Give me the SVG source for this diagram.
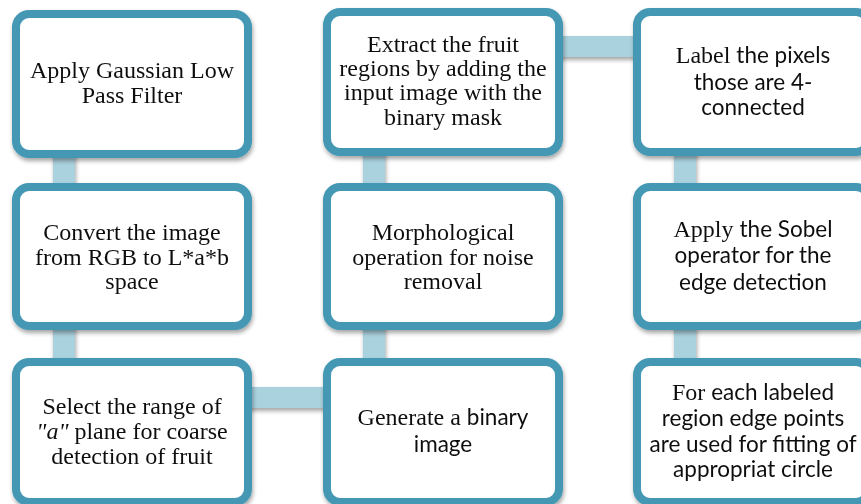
<svg xmlns="http://www.w3.org/2000/svg" width="861" height="504" viewBox="0 0 861 504">
<defs>
<filter id="sh" x="-10%" y="-10%" width="120%" height="130%">
<feDropShadow dx="1" dy="3" stdDeviation="2" flood-color="#000" flood-opacity="0.35"/>
</filter>
<style>
.box{fill:#fff;stroke:#4498B4;stroke-width:8}
.con{fill:#A9D1DE}
text{font-size:24px;fill:#111;text-anchor:middle}
.s{font-family:"Liberation Serif","Times New Roman",serif;font-size:24px}
.a{font-family:Lato,"Open Sans",sans-serif;font-size:22.5px}
.i{font-style:italic}
</style>
</defs>
<rect width="861" height="504" fill="#fff"/>
<g id="connectors" filter="url(#sh)">
<rect class="con" x="53" y="150" width="22" height="40"/>
<rect class="con" x="53" y="325" width="22" height="40"/>
<rect class="con" x="245" y="387" width="85" height="21"/>
<rect class="con" x="363" y="325" width="22" height="40"/>
<rect class="con" x="363" y="150" width="22" height="40"/>
<rect class="con" x="556" y="36" width="85" height="21"/>
<rect class="con" x="674" y="150" width="22" height="40"/>
<rect class="con" x="674" y="325" width="22" height="40"/>
</g>
<g id="n1" filter="url(#sh)">
<rect class="box" x="16" y="14" width="232" height="140" rx="13"/>
<text class="s" x="132" y="78">Apply Gaussian Low</text>
<text class="s" x="132" y="103">Pass Filter</text>
</g>
<g id="n2" filter="url(#sh)">
<rect class="box" x="16" y="187" width="232" height="139" rx="13"/>
<text class="s" x="132" y="240">Convert the image</text>
<text class="s" x="132" y="265">from RGB to L*a*b</text>
<text class="s" x="132" y="289">space</text>
</g>
<g id="n3" filter="url(#sh)">
<rect class="box" x="16" y="362" width="232" height="140" rx="13"/>
<text class="s" x="132" y="414">Select the range of</text>
<text class="s" x="132" y="439"><tspan class="i">"a"</tspan> plane for coarse</text>
<text class="s" x="132" y="464">detection of fruit</text>
</g>
<g id="n4" filter="url(#sh)">
<rect class="box" x="327" y="362" width="232" height="140" rx="13"/>
<text x="443" y="425"><tspan class="s">Generate a </tspan><tspan class="a">binary</tspan></text>
<text class="a" x="443" y="452">image</text>
</g>
<g id="n5" filter="url(#sh)">
<rect class="box" x="327" y="187" width="232" height="139" rx="13"/>
<text class="s" x="443" y="240">Morphological</text>
<text class="s" x="443" y="265">operation for noise</text>
<text class="s" x="443" y="289">removal</text>
</g>
<g id="n6" filter="url(#sh)">
<rect class="box" x="327" y="12" width="232" height="140" rx="13"/>
<text class="s" x="443" y="52">Extract the fruit</text>
<text class="s" x="443" y="76">regions by adding the</text>
<text class="s" x="443" y="100">input image with the</text>
<text class="s" x="443" y="125">binary mask</text>
</g>
<g id="n7" filter="url(#sh)">
<rect class="box" x="637" y="12" width="232" height="140" rx="13"/>
<text x="753" y="63"><tspan class="s">Label </tspan><tspan class="a">the pixels</tspan></text>
<text class="a" x="753" y="90">those are 4-</text>
<text class="a" x="753" y="115">connected</text>
</g>
<g id="n8" filter="url(#sh)">
<rect class="box" x="637" y="187" width="232" height="139" rx="13"/>
<text x="753" y="237"><tspan class="s">Apply </tspan><tspan class="a">the Sobel</tspan></text>
<text class="a" x="753" y="263">operator for the</text>
<text class="a" x="753" y="290">edge detection</text>
</g>
<g id="n9" filter="url(#sh)">
<rect class="box" x="637" y="362" width="232" height="140" rx="13"/>
<text x="753" y="400"><tspan class="s">For </tspan><tspan class="a">each labeled</tspan></text>
<text class="a" x="753" y="426">region edge points</text>
<text class="a" x="753" y="452">are used for fitting of</text>
<text class="a" x="753" y="477">appropriat circle</text>
</g>
</svg>
